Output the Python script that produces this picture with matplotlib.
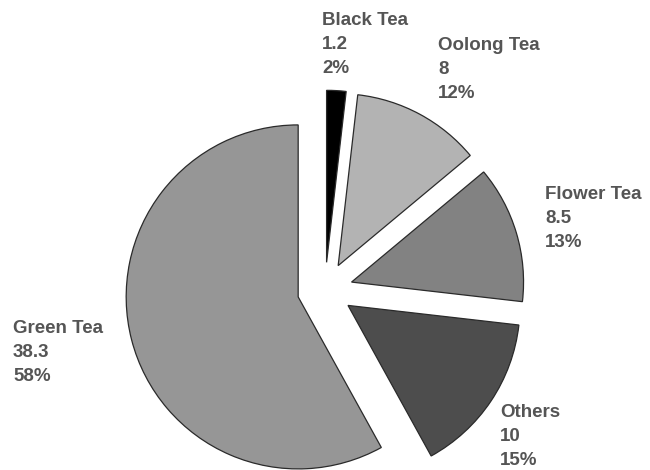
import matplotlib
matplotlib.use("Agg")
import matplotlib.pyplot as plt

names = ["Black Tea", "Oolong Tea", "Flower Tea", "Others", "Green Tea"]
values = [1.2, 8, 8.5, 10, 38.3]
colors = ["#000000", "#b3b3b3", "#828282", "#4d4d4d", "#969696"]
# where each label block starts (left, top of first line)
label_pos = [(322, 12), (438, 37), (545, 186), (500, 404), (13, 320)]

W, H = 650, 470
fig = plt.figure(figsize=(W / 100, H / 100), dpi=100)
ax = fig.add_axes([0, 0, 1, 1])

r = 172
ax.pie(values, colors=colors, startangle=90, counterclock=False,
       radius=r, center=(325, H - 290), explode=[27.7] * len(values),
       wedgeprops=dict(edgecolor="#2a2a2a", linewidth=0.9),
       frame=True)
ax.set_xlim(0, W)
ax.set_ylim(0, H)
ax.set_aspect("equal")
ax.axis("off")

total = sum(values)
for name, v, (x, y) in zip(names, values, label_pos):
    txt = "%s\n%g\n%d%%" % (name, v, round(v / total * 100))
    ax.text(x, H - y, txt, ha="left", va="top", fontsize=13.5,
            fontweight="bold", family="Liberation Sans", color="#555555",
            linespacing=1.55)

fig.savefig("out.png", dpi=100, facecolor="white")
